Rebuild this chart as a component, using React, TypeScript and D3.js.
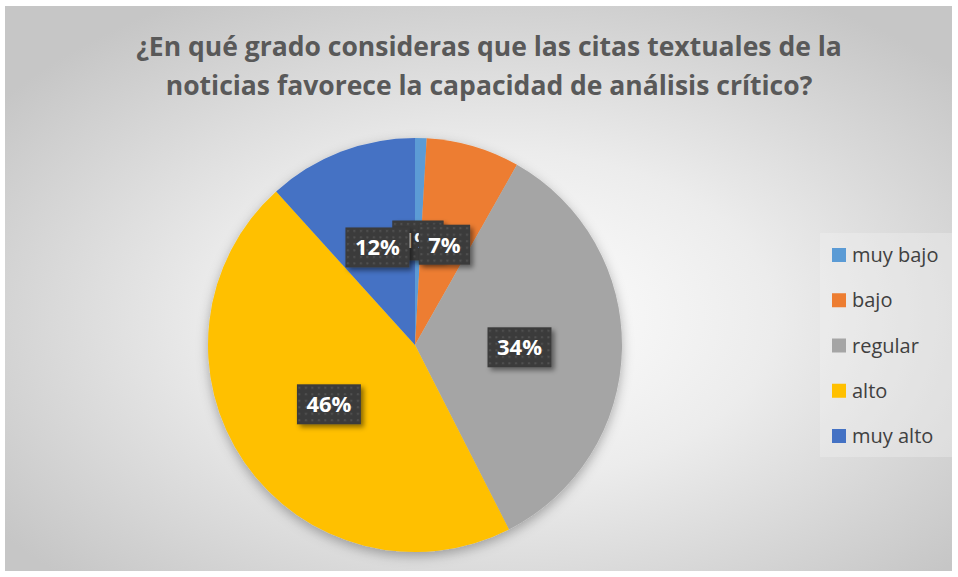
import React from 'react';
import * as d3 from 'd3';

const categories = ['muy bajo', 'bajo', 'regular', 'alto', 'muy alto'];
const values = [0.9, 7.3, 34.3, 45.8, 11.7];
const colors = ['#5B9BD5', '#ED7D31', '#A5A5A5', '#FFC000', '#4472C4'];
const titleLines = [
  '¿En qué grado consideras que las citas textuales de la',
  'noticias favorece la capacidad de análisis crítico?',
];

const W = 958;
const H = 577;
const FONT = '"Open Sans", Lato, sans-serif';

function measure(text: string, font: string): number {
  const c = document.createElement('canvas');
  const ctx = c.getContext('2d');
  if (!ctx) return text.length * 12;
  ctx.font = font;
  return ctx.measureText(text).width;
}

export default function App() {
  const cx = 415;
  const cy = 345;
  const r = 207;
  const total = d3.sum(values);
  const pct = d3.format('.0%');
  const pie = d3.pie<number>().sort(null).value((d) => d);
  const arcs = pie(values);
  const arc = d3.arc<d3.PieArcDatum<number>>().innerRadius(0).outerRadius(r);
  const labelArc = d3.arc<d3.PieArcDatum<number>>().innerRadius(r * 0.505).outerRadius(r * 0.505);
  const labelFontSize = 22;
  const labelFont = `bold ${labelFontSize}px "Open Sans"`;

  const legendY = d3.scalePoint<string>().domain(categories).range([255, 436]);

  return (
    <svg width={W} height={H} style={{ position: 'absolute', left: 0, top: 0 }} xmlns="http://www.w3.org/2000/svg">
      <defs>
        <radialGradient id="bg" cx="52%" cy="55%" r="65%">
          <stop offset="0%" stopColor="#ffffff" />
          <stop offset="45%" stopColor="#ececec" />
          <stop offset="100%" stopColor="#c6c6c6" />
        </radialGradient>
        <filter id="pieShadow" x="-20%" y="-20%" width="140%" height="140%">
          <feDropShadow dx="0" dy="4" stdDeviation="6" floodColor="#000" floodOpacity="0.3" />
        </filter>
        <filter id="boxShadow" x="-30%" y="-30%" width="160%" height="160%">
          <feDropShadow dx="3" dy="3" stdDeviation="2.5" floodColor="#000" floodOpacity="0.45" />
        </filter>
        <pattern id="dots" width="6.5" height="6.5" patternUnits="userSpaceOnUse">
          <rect width="6.5" height="6.5" fill="#3b3b3b" />
          <rect x="2" y="2" width="2" height="2" fill="#525252" />
        </pattern>
      </defs>
      <rect x={0} y={0} width={W} height={H} fill="#ffffff" />
      <rect x={5} y={6} width={947} height={565} fill="url(#bg)" />

      {titleLines.map((t, i) => (
        <text
          key={i}
          x={489}
          y={56 + i * 39}
          textAnchor="middle"
          fontFamily={FONT}
          fontWeight="bold"
          fontSize={26.5}
          fill="#595959"
        >
          {t}
        </text>
      ))}

      <g transform={`translate(${cx},${cy})`} filter="url(#pieShadow)">
        {arcs.map((a, i) => (
          <path key={i} d={arc(a) || ''} fill={colors[i]} />
        ))}
      </g>

      <g transform={`translate(${cx},${cy})`}>
        {arcs.map((a, i) => {
          const [lx, ly] = labelArc.centroid(a);
          const txt = pct(values[i] / total);
          const tw = measure(txt, labelFont);
          const bw = tw + 19;
          const bh = 40;
          return (
            <g key={i} transform={`translate(${lx},${ly})`}>
              <rect x={-bw / 2} y={-bh / 2} width={bw} height={bh} fill="url(#dots)" filter="url(#boxShadow)" />
              <text
                x={0}
                y={0}
                dy="0.36em"
                textAnchor="middle"
                fontFamily={FONT}
                fontWeight="bold"
                fontSize={labelFontSize}
                fill="#ffffff"
              >
                {txt}
              </text>
            </g>
          );
        })}
      </g>

      <rect x={820} y={233} width={132} height={224} fill="#f4f4f4" opacity={0.35} />
      {categories.map((c, i) => (
        <g key={c} transform={`translate(832,${legendY(c)})`}>
          <rect x={0} y={-7} width={14} height={14} fill={colors[i]} />
          <text x={20} y={0} dy="0.35em" fontFamily={FONT} fontSize={20} fill="#404040">
            {c}
          </text>
        </g>
      ))}
    </svg>
  );
}
